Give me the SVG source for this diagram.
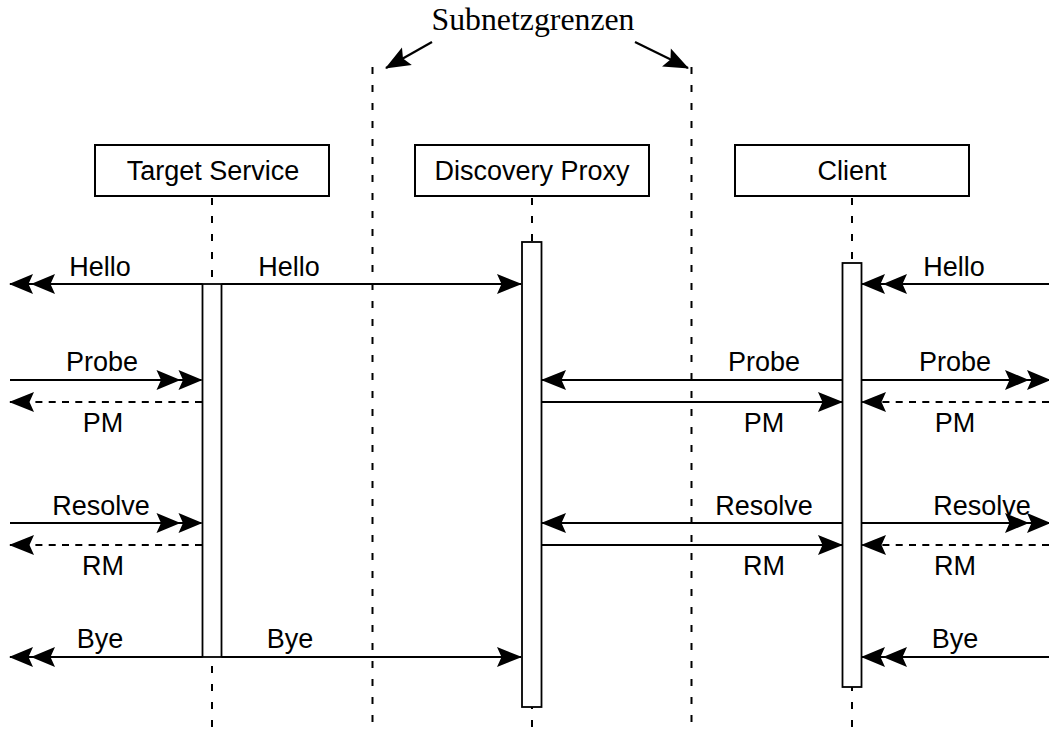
<svg xmlns="http://www.w3.org/2000/svg" width="1049" height="733" viewBox="0 0 1049 733">
<style>
.box{fill:#fff;stroke:#000;stroke-width:2}
.act{fill:#fff;stroke:#000;stroke-width:1.8}
.life{fill:none;stroke:#000;stroke-width:2;stroke-dasharray:7 11}
.msg{fill:none;stroke:#000;stroke-width:2.2}
.dash{stroke-dasharray:7 6.3}
.t{font-family:"Liberation Sans",Arial,sans-serif;font-size:27px;fill:#000;text-anchor:middle}
.s{font-family:"Liberation Serif","Times New Roman",serif;font-size:32px;fill:#000;text-anchor:middle}
.one{marker-end:url(#head1)}
.two{marker-end:url(#head2)}
</style>
<defs>
<marker id="head1" markerUnits="userSpaceOnUse" orient="auto" viewBox="-27 -12 30 24" refX="0" refY="0" markerWidth="30" markerHeight="24"><path d="M1,0 L-24,-10 L-19.5,0 L-24,10 Z" fill="#000"/></marker>
<marker id="head2" markerUnits="userSpaceOnUse" orient="auto" viewBox="-49 -12 52 24" refX="0" refY="0" markerWidth="52" markerHeight="24"><path d="M1,0 L-23,-10 L-18.5,0 L-23,10 Z M-21,0 L-45,-10 L-40.5,0 L-45,10 Z" fill="#000"/></marker>
</defs>

<g id="subnet">
<line class="life" x1="372.5" y1="67" x2="372.5" y2="733"/>
<line class="life" x1="691.5" y1="67" x2="691.5" y2="733"/>
<text class="s" x="533" y="30" textLength="203" lengthAdjust="spacingAndGlyphs">Subnetzgrenzen</text>
<line class="msg one" x1="432" y1="42" x2="386" y2="68"/>
<line class="msg one" x1="635" y1="42" x2="688" y2="68"/>
</g>

<g id="target-service">
<line class="life" x1="212" y1="198" x2="212" y2="733"/>
<rect class="box" x="95" y="145" width="234" height="51"/>
<text class="t" x="213" y="180">Target Service</text>
<rect class="act" x="202.5" y="284" width="19" height="373"/>
</g>

<g id="discovery-proxy">
<line class="life" x1="532" y1="198" x2="532" y2="733"/>
<rect class="box" x="415" y="145" width="234" height="51"/>
<text class="t" x="532" y="180">Discovery Proxy</text>
<rect class="act" x="522" y="242" width="19.5" height="465"/>
</g>

<g id="client">
<line class="life" x1="852" y1="198" x2="852" y2="733"/>
<rect class="box" x="735" y="145" width="234" height="51"/>
<text class="t" x="852" y="180">Client</text>
<rect class="act" x="842.5" y="263" width="19" height="424"/>
</g>

<g id="connectors">
<line class="msg two" x1="202.5" y1="284" x2="10" y2="284"/>
<line class="msg one" x1="221.5" y1="284" x2="521" y2="284"/>
<line class="msg two" x1="1049" y1="284" x2="862" y2="284"/>
<line class="msg two" x1="10" y1="380" x2="201.5" y2="380"/>
<line class="msg dash one" x1="202" y1="402" x2="10" y2="402"/>
<line class="msg one" x1="842.5" y1="380" x2="542" y2="380"/>
<line class="msg one" x1="541.5" y1="402" x2="842" y2="402"/>
<line class="msg two" x1="861.5" y1="380" x2="1050" y2="380"/>
<line class="msg dash one" x1="1049" y1="402" x2="862" y2="402"/>
<line class="msg two" x1="10" y1="523" x2="201.5" y2="523"/>
<line class="msg dash one" x1="202" y1="545" x2="10" y2="545"/>
<line class="msg one" x1="842.5" y1="523" x2="542" y2="523"/>
<line class="msg one" x1="541.5" y1="545" x2="842" y2="545"/>
<line class="msg two" x1="861.5" y1="523" x2="1050" y2="523"/>
<line class="msg dash one" x1="1049" y1="545" x2="862" y2="545"/>
<line class="msg two" x1="202.5" y1="657" x2="10" y2="657"/>
<line class="msg one" x1="221.5" y1="657" x2="521" y2="657"/>
<line class="msg two" x1="1049" y1="657" x2="862" y2="657"/>
</g>

<g id="labels">
<text class="t" x="100" y="276">Hello</text>
<text class="t" x="289" y="276">Hello</text>
<text class="t" x="954" y="276">Hello</text>
<text class="t" x="102" y="371">Probe</text>
<text class="t" x="103" y="432">PM</text>
<text class="t" x="764" y="371">Probe</text>
<text class="t" x="764" y="432">PM</text>
<text class="t" x="955" y="371">Probe</text>
<text class="t" x="955" y="432">PM</text>
<text class="t" x="101" y="515">Resolve</text>
<text class="t" x="103" y="575">RM</text>
<text class="t" x="764" y="515">Resolve</text>
<text class="t" x="764" y="575">RM</text>
<text class="t" x="982" y="515">Resolve</text>
<text class="t" x="955" y="575">RM</text>
<text class="t" x="100" y="648">Bye</text>
<text class="t" x="290" y="648">Bye</text>
<text class="t" x="955" y="648">Bye</text>
</g>
</svg>
